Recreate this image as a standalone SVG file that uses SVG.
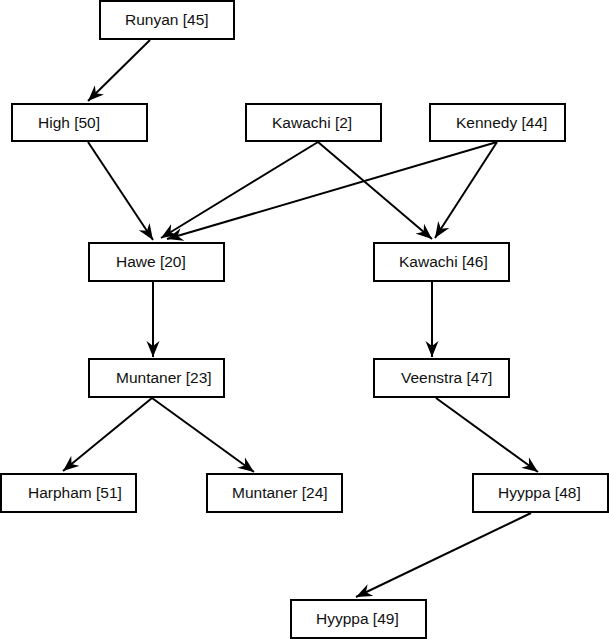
<svg xmlns="http://www.w3.org/2000/svg" width="609" height="639" viewBox="0 0 609 639">
<style>
.box{fill:#fff;stroke:#000;stroke-width:2}
.lbl{font-family:"Liberation Sans",Arial,sans-serif;font-size:15.5px;fill:#111}
.edge{stroke:#000;stroke-width:2;fill:none}
</style>
<defs>
<marker id="ah" markerUnits="userSpaceOnUse" markerWidth="18" markerHeight="14" refX="16" refY="7" orient="auto">
<path d="M0,0.5 L16,7 L0,13.5 L5,7 z" fill="#000"/>
</marker>
</defs>
<rect width="609" height="639" fill="#fff"/>
<g id="connectors">
<line class="edge" x1="150" y1="40" x2="88" y2="101" marker-end="url(#ah)"/>
<line class="edge" x1="88" y1="142" x2="153" y2="240" marker-end="url(#ah)"/>
<line class="edge" x1="318" y1="142" x2="161" y2="238" marker-end="url(#ah)"/>
<line class="edge" x1="497" y1="142" x2="167" y2="239" marker-end="url(#ah)"/>
<line class="edge" x1="318" y1="142" x2="432" y2="239" marker-end="url(#ah)"/>
<line class="edge" x1="497" y1="142" x2="435" y2="238" marker-end="url(#ah)"/>
<line class="edge" x1="153" y1="282" x2="153" y2="357" marker-end="url(#ah)"/>
<line class="edge" x1="432" y1="282" x2="432" y2="357" marker-end="url(#ah)"/>
<line class="edge" x1="152" y1="398" x2="63" y2="471" marker-end="url(#ah)"/>
<line class="edge" x1="152" y1="398" x2="254" y2="472" marker-end="url(#ah)"/>
<line class="edge" x1="436" y1="398" x2="538" y2="472" marker-end="url(#ah)"/>
<line class="edge" x1="531" y1="513" x2="356" y2="597" marker-end="url(#ah)"/>
</g>
<g id="runyan45"><rect class="box" x="100" y="1" width="134" height="38"/><text class="lbl" x="125" y="25">Runyan [45]</text></g>
<g id="high50"><rect class="box" x="12" y="104" width="135" height="37"/><text class="lbl" x="38" y="128">High [50]</text></g>
<g id="kawachi2"><rect class="box" x="246" y="104" width="135" height="37"/><text class="lbl" x="272" y="128">Kawachi [2]</text></g>
<g id="kennedy44"><rect class="box" x="430" y="104" width="135" height="37"/><text class="lbl" x="456" y="128">Kennedy [44]</text></g>
<g id="hawe20"><rect class="box" x="89" y="243" width="135" height="38"/><text class="lbl" x="116" y="267">Hawe [20]</text></g>
<g id="kawachi46"><rect class="box" x="374" y="243" width="135" height="38"/><text class="lbl" x="399" y="267">Kawachi [46]</text></g>
<g id="muntaner23"><rect class="box" x="89" y="359" width="135" height="38"/><text class="lbl" x="116" y="383">Muntaner [23]</text></g>
<g id="veenstra47"><rect class="box" x="374" y="359" width="135" height="38"/><text class="lbl" x="401" y="383">Veenstra [47]</text></g>
<g id="harpham51"><rect class="box" x="1" y="474" width="135" height="38"/><text class="lbl" x="28" y="498">Harpham [51]</text></g>
<g id="muntaner24"><rect class="box" x="207" y="474" width="135" height="38"/><text class="lbl" x="232" y="498">Muntaner [24]</text></g>
<g id="hyyppa48"><rect class="box" x="473" y="474" width="135" height="38"/><text class="lbl" x="498" y="498">Hyyppa [48]</text></g>
<g id="hyyppa49"><rect class="box" x="291" y="600" width="135" height="38"/><text class="lbl" x="316" y="624">Hyyppa [49]</text></g>
</svg>
